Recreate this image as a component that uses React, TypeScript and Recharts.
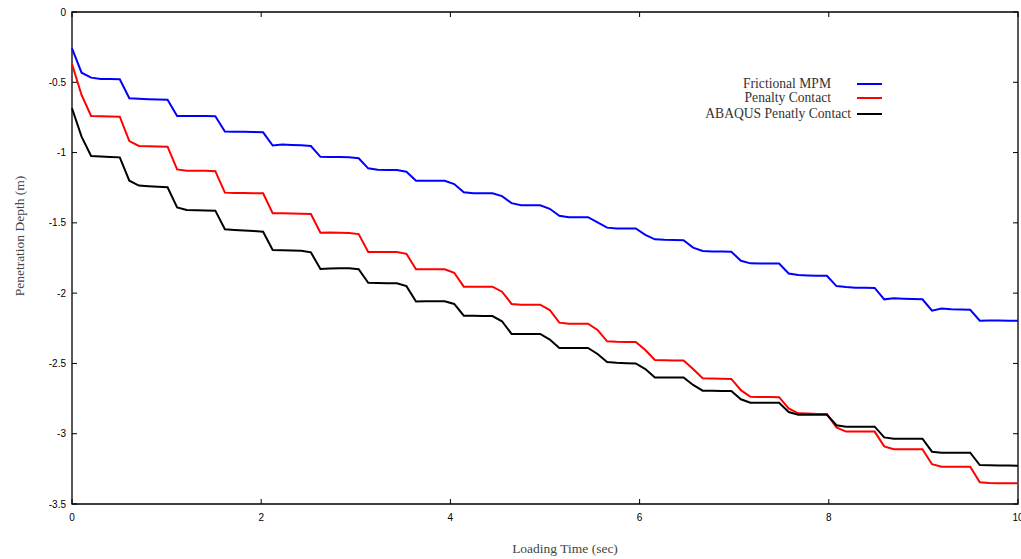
import React from 'react';
import { LineChart, Line, XAxis, YAxis, ReferenceArea, Label } from 'recharts';

// Loading time samples: 100 uniform samples over 0..10 s
const SAMPLE_COUNT = 100;
const loadingTime = Array.from({ length: SAMPLE_COUNT }, (_, i) => (i * 10) / (SAMPLE_COUNT - 1));

const frictionalMPM = [
  -0.258, -0.432, -0.467, -0.476, -0.477, -0.479, -0.614, -0.618, -0.621, -0.623,
  -0.624, -0.74, -0.739, -0.739, -0.74, -0.742, -0.85, -0.851, -0.852, -0.854,
  -0.856, -0.95, -0.943, -0.946, -0.948, -0.953, -1.03, -1.031, -1.032, -1.033,
  -1.04, -1.112, -1.122, -1.124, -1.124, -1.136, -1.2, -1.2, -1.2, -1.2,
  -1.224, -1.283, -1.29, -1.29, -1.29, -1.31, -1.36, -1.375, -1.375, -1.375,
  -1.4, -1.45, -1.46, -1.46, -1.46, -1.496, -1.534, -1.54, -1.54, -1.54,
  -1.586, -1.617, -1.621, -1.622, -1.624, -1.676, -1.7, -1.703, -1.704, -1.705,
  -1.77, -1.788, -1.79, -1.79, -1.79, -1.86, -1.871, -1.874, -1.876, -1.876,
  -1.95, -1.957, -1.961, -1.962, -1.963, -2.044, -2.037, -2.04, -2.042, -2.044,
  -2.125, -2.11, -2.115, -2.117, -2.118, -2.196, -2.194, -2.195, -2.196, -2.196,
];

const penaltyContact = [
  -0.37, -0.59, -0.74, -0.742, -0.743, -0.745, -0.918, -0.953, -0.955, -0.957,
  -0.958, -1.12, -1.13, -1.13, -1.13, -1.132, -1.285, -1.287, -1.288, -1.289,
  -1.29, -1.432, -1.432, -1.434, -1.435, -1.437, -1.57, -1.569, -1.57, -1.573,
  -1.58, -1.707, -1.707, -1.707, -1.707, -1.72, -1.83, -1.83, -1.83, -1.83,
  -1.855, -1.954, -1.954, -1.954, -1.954, -1.99, -2.077, -2.082, -2.082, -2.082,
  -2.12, -2.21, -2.217, -2.217, -2.217, -2.262, -2.343, -2.346, -2.347, -2.348,
  -2.405, -2.476, -2.478, -2.479, -2.48, -2.54, -2.606, -2.608, -2.609, -2.61,
  -2.69, -2.737, -2.738, -2.739, -2.74, -2.82, -2.855, -2.857, -2.859, -2.86,
  -2.955, -2.985, -2.985, -2.985, -2.985, -3.09, -3.11, -3.11, -3.11, -3.11,
  -3.217, -3.235, -3.235, -3.235, -3.235, -3.346, -3.35, -3.352, -3.353, -3.353,
];

const abaqusPenaltyContact = [
  -0.685, -0.887, -1.024, -1.028, -1.031, -1.034, -1.2, -1.235, -1.24, -1.244,
  -1.247, -1.39, -1.408, -1.41, -1.412, -1.413, -1.546, -1.551, -1.555, -1.558,
  -1.563, -1.693, -1.695, -1.697, -1.698, -1.71, -1.828, -1.825, -1.823, -1.823,
  -1.83, -1.926, -1.928, -1.929, -1.93, -1.95, -2.06, -2.058, -2.058, -2.058,
  -2.077, -2.16, -2.161, -2.162, -2.163, -2.2, -2.29, -2.29, -2.29, -2.29,
  -2.33, -2.39, -2.39, -2.39, -2.39, -2.433, -2.49, -2.495, -2.498, -2.5,
  -2.54, -2.6, -2.6, -2.6, -2.6, -2.653, -2.694, -2.695, -2.696, -2.696,
  -2.755, -2.78, -2.78, -2.78, -2.78, -2.846, -2.865, -2.865, -2.865, -2.865,
  -2.94, -2.95, -2.95, -2.95, -2.95, -3.026, -3.035, -3.035, -3.035, -3.035,
  -3.128, -3.135, -3.135, -3.135, -3.135, -3.223, -3.225, -3.226, -3.227, -3.228,
];

const xTicks = [0, 2, 4, 6, 8, 10];
const yTicks = [0, -0.5, -1, -1.5, -2, -2.5, -3, -3.5];

const seriesNames = ['Frictional MPM', 'Penalty Contact', 'ABAQUS Penatly Contact'];
const seriesKeys = ['mpm', 'penalty', 'abaqus'];

const STYLE = {
  colors: ['#0000ff', '#ff0000', '#000000'],
  legendTextRight: [831, 831, 851],
  legendRowY: [83.5, 97.5, 113.5],
};

const data = loadingTime.map((t, i) => ({
  t,
  mpm: frictionalMPM[i],
  penalty: penaltyContact[i],
  abaqus: abaqusPenaltyContact[i],
}));

const W = 1021;
const H = 559;
const PLOT_LEFT = 72;
const PLOT_RIGHT = 1018;
const PLOT_TOP = 12;
const PLOT_BOTTOM = 504;
const X_MARGIN = 13;
const Y_MARGIN = 6;
const TICK_LEN = 5;

const tickFont = { fontFamily: '"Liberation Sans", Arial, sans-serif', fontSize: 10, fill: '#000' };

const XTick = (props: any) => {
  const { x, payload } = props;
  return (
    <g>
      <line x1={x} x2={x} y1={PLOT_BOTTOM} y2={PLOT_BOTTOM - TICK_LEN} stroke="#000" strokeWidth={1} />
      <line x1={x} x2={x} y1={PLOT_TOP} y2={PLOT_TOP + TICK_LEN} stroke="#000" strokeWidth={1} />
      <text x={x} y={PLOT_BOTTOM + X_MARGIN} dy="0.35em" textAnchor="middle" {...tickFont}>
        {payload.value}
      </text>
    </g>
  );
};

const YTick = (props: any) => {
  const { y, payload } = props;
  return (
    <g>
      <line x1={PLOT_LEFT} x2={PLOT_LEFT + TICK_LEN} y1={y} y2={y} stroke="#000" strokeWidth={1} />
      <line x1={PLOT_RIGHT} x2={PLOT_RIGHT - TICK_LEN} y1={y} y2={y} stroke="#000" strokeWidth={1} />
      <text x={PLOT_LEFT - Y_MARGIN} y={y} dy="0.35em" textAnchor="end" {...tickFont}>
        {payload.value}
      </text>
    </g>
  );
};

const titleFont = { fontFamily: '"Liberation Serif", "Times New Roman", serif', fontSize: 13.5, fill: '#444' };

export default function App() {
  return (
    <div style={{ position: 'absolute', left: 0, top: 0, width: W, height: H, background: '#fff' }}>
      <LineChart
        width={W}
        height={H}
        data={data}
        margin={{ top: PLOT_TOP, right: W - PLOT_RIGHT, bottom: 0, left: 0 }}
      >
        <XAxis
          dataKey="t"
          type="number"
          domain={[0, 10]}
          ticks={xTicks}
          interval={0}
          tickSize={0}
          tickMargin={X_MARGIN}
          tick={<XTick />}
          axisLine={false}
          tickLine={false}
          height={H - PLOT_BOTTOM}
        >
          <Label
            content={() => (
              <text x={565} y={548} dy="0.35em" textAnchor="middle" {...titleFont}>
                Loading Time (sec)
              </text>
            )}
          />
        </XAxis>
        <YAxis
          type="number"
          domain={[-3.5, 0]}
          ticks={yTicks}
          interval={0}
          tickSize={0}
          tickMargin={Y_MARGIN}
          tick={<YTick />}
          axisLine={false}
          tickLine={false}
          width={PLOT_LEFT}
        >
          <Label
            content={() => (
              <text
                x={19}
                y={236}
                dy="0.35em"
                textAnchor="middle"
                transform="rotate(-90 19 236)"
                {...titleFont}
              >
                Penetration Depth (m)
              </text>
            )}
          />
        </YAxis>
        <ReferenceArea
          x1={0}
          x2={10}
          y1={-3.5}
          y2={0}
          fill="none"
          fillOpacity={0}
          stroke="#000"
          strokeWidth={1.3}
          ifOverflow="visible"
        />
        {seriesKeys.map((k, i) => (
          <Line
            key={k}
            dataKey={k}
            name={seriesNames[i]}
            type="linear"
            stroke={STYLE.colors[i]}
            strokeWidth={2}
            dot={false}
            activeDot={false}
            isAnimationActive={false}
          />
        ))}
      </LineChart>
      {seriesNames.map((name, i) => (
        <div key={name}>
          <div
            style={{
              position: 'absolute',
              right: W - STYLE.legendTextRight[i],
              top: STYLE.legendRowY[i] - 8,
              height: 16,
              lineHeight: '16px',
              whiteSpace: 'nowrap',
              fontFamily: '"Liberation Serif", "Times New Roman", serif',
              fontSize: 13.6,
              color: '#333',
            }}
          >
            {name}
          </div>
          <div
            style={{
              position: 'absolute',
              left: 857,
              top: STYLE.legendRowY[i] - 1,
              width: 25,
              height: 2,
              background: STYLE.colors[i],
            }}
          />
        </div>
      ))}
    </div>
  );
}
